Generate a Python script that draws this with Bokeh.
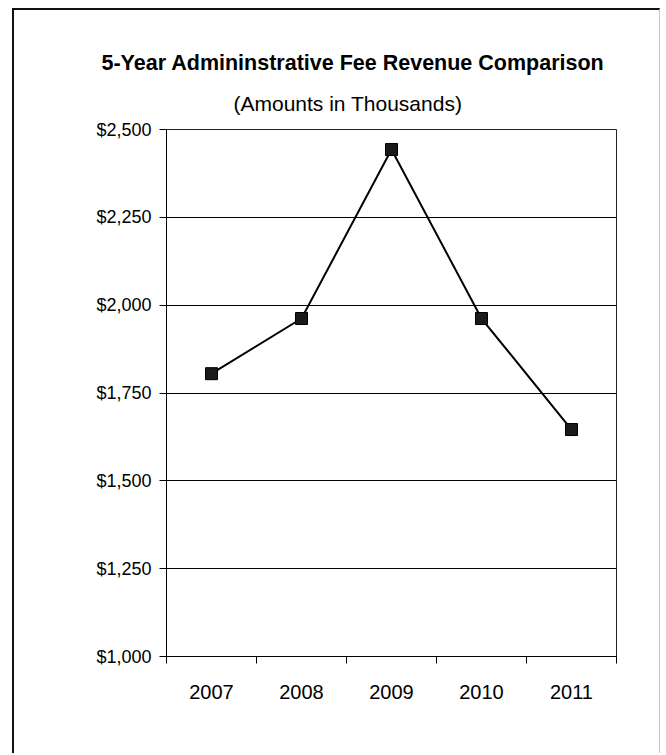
from bokeh.plotting import figure
from bokeh.models import (ColumnDataSource, FixedTicker, NumeralTickFormatter,
                          CustomJSTickFormatter, Title, Range1d)
from bokeh.embed import file_html
from bokeh.resources import INLINE

# Administrative fee revenue, in thousands of dollars
years = ["2007", "2008", "2009", "2010", "2011"]
revenue = [1805, 1962, 2443, 1962, 1646]
y_ticks = [1000, 1250, 1500, 1750, 2000, 2250, 2500]

FONT = "Liberation Sans"

# each year sits in the middle of its own unit-wide slot
xpos = [i + 0.5 for i in range(len(years))]
src = ColumnDataSource(dict(x=xpos, y=revenue, year=years))

p = figure(width=648, height=745, output_backend="svg", toolbar_location=None,
           x_range=Range1d(0, len(years)), y_range=Range1d(y_ticks[0], y_ticks[-1]),
           min_border_left=152, min_border_right=46,
           min_border_top=119, min_border_bottom=99)
p.background_fill_color = "white"
p.border_fill_color = "white"
p.outline_line_color = "#222222"
p.outline_line_width = 1

# chart border drawn around the whole canvas
p.styles = {
    "margin-left": "12px",
    "margin-top": "8px",
    "border-left": "2px solid #111111",
    "border-top": "2px solid #111111",
    "border-right": "1px solid #c8c8c8",
}

# y axis: dollar ticks every 250
p.yaxis.ticker = FixedTicker(ticks=y_ticks, minor_ticks=[])
p.yaxis.formatter = NumeralTickFormatter(format="$0,0")
p.yaxis.major_label_text_font = FONT
p.yaxis.major_label_text_font_size = "18px"
p.yaxis.major_label_text_color = "black"
p.yaxis.major_tick_out = 7
p.yaxis.major_tick_in = 0
p.yaxis.major_label_standoff = 8
p.yaxis.axis_line_color = "black"
p.yaxis.major_tick_line_color = "black"

# x axis: labels at slot centres, tick marks at slot boundaries
p.xaxis.ticker = FixedTicker(ticks=xpos, minor_ticks=list(range(len(years) + 1)))
p.xaxis.formatter = CustomJSTickFormatter(args=dict(years=years),
                                          code="return years[Math.floor(tick)]")
p.xaxis.major_tick_out = 0
p.xaxis.major_tick_in = 0
p.xaxis.minor_tick_out = 7
p.xaxis.minor_tick_in = 0
p.xaxis.minor_tick_line_color = "black"
p.xaxis.axis_line_color = "black"
p.xaxis.major_label_text_font = FONT
p.xaxis.major_label_text_font_size = "20px"
p.xaxis.major_label_text_color = "black"
p.xaxis.major_label_standoff = 21

p.xgrid.grid_line_color = None
p.ygrid.ticker = FixedTicker(ticks=y_ticks)
p.ygrid.grid_line_color = "black"
p.ygrid.grid_line_width = 1

p.line("x", "y", source=src, line_color="black", line_width=2)
p.scatter("x", "y", source=src, marker="square", size=12,
          fill_color="#1a1a1a", line_color="black", line_width=1)

# chart heading: subtitle sits next to the frame, main title above it
p.add_layout(Title(text="(Amounts in Thousands)", align="left", offset=67,
                   text_font=FONT, text_font_size="21px", text_font_style="normal",
                   text_color="black", standoff=30), "above")
p.add_layout(Title(text="5-Year Admininstrative Fee Revenue Comparison",
                   align="left", offset=-65,
                   text_font=FONT, text_font_size="21.5px", text_font_style="bold",
                   text_color="black", standoff=0, text_line_height=1.3), "above")

open("out.html", "w").write(file_html(p, INLINE))
